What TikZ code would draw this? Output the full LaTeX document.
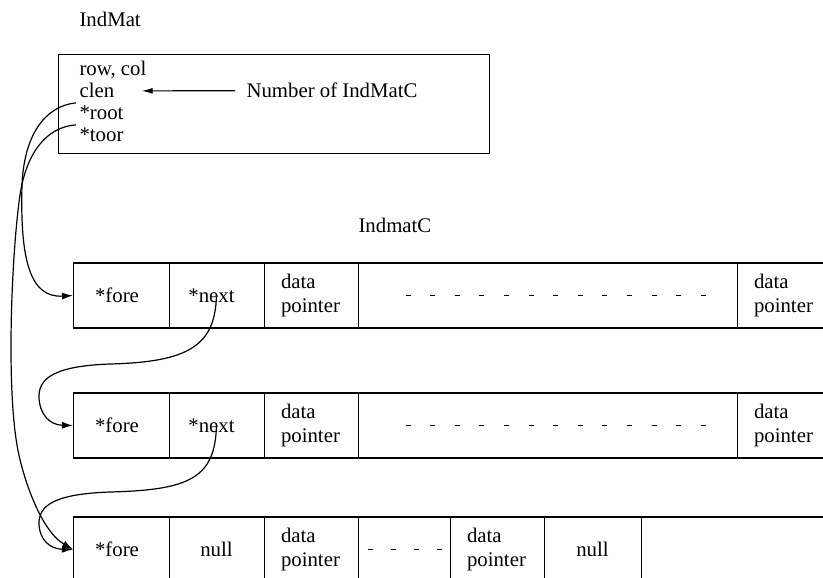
\documentclass[tikz,border=0pt]{standalone}
\usepackage{fontspec}
\setmainfont{Liberation Serif}
\usepackage{tikz}
\usetikzlibrary{arrows.meta,calc}
\def\fs{\fontsize{20.8}{23.5}\selectfont}
\tikzset{
  cell/.style={draw,line width=0.9pt,anchor=north west,minimum height=65,inner sep=0pt,outer sep=0pt},
  dp/.style={cell,align=left,text width=60,inner xsep=17},
  edge/.style={line width=1.6pt},
  ptr/.style={line width=1.2pt,-{Latex[length=11pt,width=7pt]}},
  dots/.style={line width=1.8pt,dash pattern=on 5pt off 19.6pt},
}

\begin{document}
\begin{tikzpicture}[x=1pt,y=-1pt,every node/.style={font=\fs}]
\useasboundingbox (0,0) rectangle (823,578);
\clip (0,0) rectangle (823,578);
%\draw[help lines,step=50] (0,0) grid (823,578);

% IndMat
\node[anchor=base west] (indmat) at (76,27) {IndMat};
\draw[line width=1pt] (58,55) rectangle (489,153);
\node[anchor=base west] (rowcol) at (76,76) {row, col};
\node[anchor=base west] (clen) at (76,98) {clen};
\node[anchor=base west] (root) at (76,120) {*root};
\node[anchor=base west] (toor) at (76,142) {*toor};
\node[anchor=base west] (num) at (243,98) {Number of IndMatC};
\draw[line width=1.2pt,-{Latex[length=11pt,width=6pt]}] ($(num.west)+(-8,0)$) -- ($(clen.east)+(24,0)$);

\node[anchor=base west] (indmatc) at (355,232) {IndmatC};

% first IndmatC
\node[cell,minimum width=96] (fore1) at (73,263) {*fore\kern8pt};
\node[cell,minimum width=95] (next1) at (fore1.north east) {*next\kern10pt};
\node[dp] (dpa1) at (next1.north east) {data\\pointer};
\node[cell,minimum width=379] (gap1) at (dpa1.north east) {};
\node[dp] (dpb1) at (gap1.north east) {data\\pointer};
\draw[dots] ($(gap1.center)+(-142,0)$) -- ($(gap1.center)+(158,0)$);
\draw[edge] (fore1.north west) -- (dpb1.north east);
\draw[edge] (fore1.south west) -- (dpb1.south east);

% second IndmatC
\node[cell,minimum width=96] (fore2) at (73,393) {*fore\kern8pt};
\node[cell,minimum width=95] (next2) at (fore2.north east) {*next\kern10pt};
\node[dp] (dpa2) at (next2.north east) {data\\pointer};
\node[cell,minimum width=379] (gap2) at (dpa2.north east) {};
\node[dp] (dpb2) at (gap2.north east) {data\\pointer};
\draw[dots] ($(gap2.center)+(-142,0)$) -- ($(gap2.center)+(158,0)$);
\draw[edge] (fore2.north west) -- (dpb2.north east);
\draw[edge] (fore2.south west) -- (dpb2.south east);

% last IndmatC
\node[cell,minimum width=96] (fore3) at (73,517) {*fore\kern8pt};
\node[cell,minimum width=95] (null3a) at (fore3.north east) {null};
\node[dp] (dpa3) at (null3a.north east) {data\\pointer};
\node[cell,minimum width=92] (gap3) at (dpa3.north east) {};
\node[dp] (dpb3) at (gap3.north east) {data\\pointer};
\node[cell,minimum width=97] (null3b) at (dpb3.north east) {null};
\node[cell,minimum width=200] (rest3) at (null3b.north east) {};
\draw[dots,dash pattern=on 5pt off 18pt] ($(gap3.center)+(-36,0)$) -- ($(gap3.center)+(38,0)$);
\draw[edge] (fore3.north west) -- (rest3.north east);

% pointers
\draw[ptr] (root.north west) .. controls (45,106) and (24,135) .. (22,185)
  .. controls (20,260) and (30,298) .. (fore1.west);
\draw[ptr] (toor.north west) .. controls (45,127) and (26,155) .. (20,195)
  .. controls (12,250) and (6,380) .. (17,445)
  .. controls (22,475) and (40,530) .. (fore3.west);
\draw[ptr] (next1.center) .. controls (215,345) and (190,362) .. (110,364)
  .. controls (55,366) and (38,378) .. (39,398)
  .. controls (40,415) and (50,425) .. (fore2.west);
\draw[ptr] (next2.center) .. controls (215,478) and (190,490) .. (110,492)
  .. controls (55,494) and (38,505) .. (39,525)
  .. controls (40,540) and (50,549) .. (fore3.west);
\end{tikzpicture}
\end{document}
